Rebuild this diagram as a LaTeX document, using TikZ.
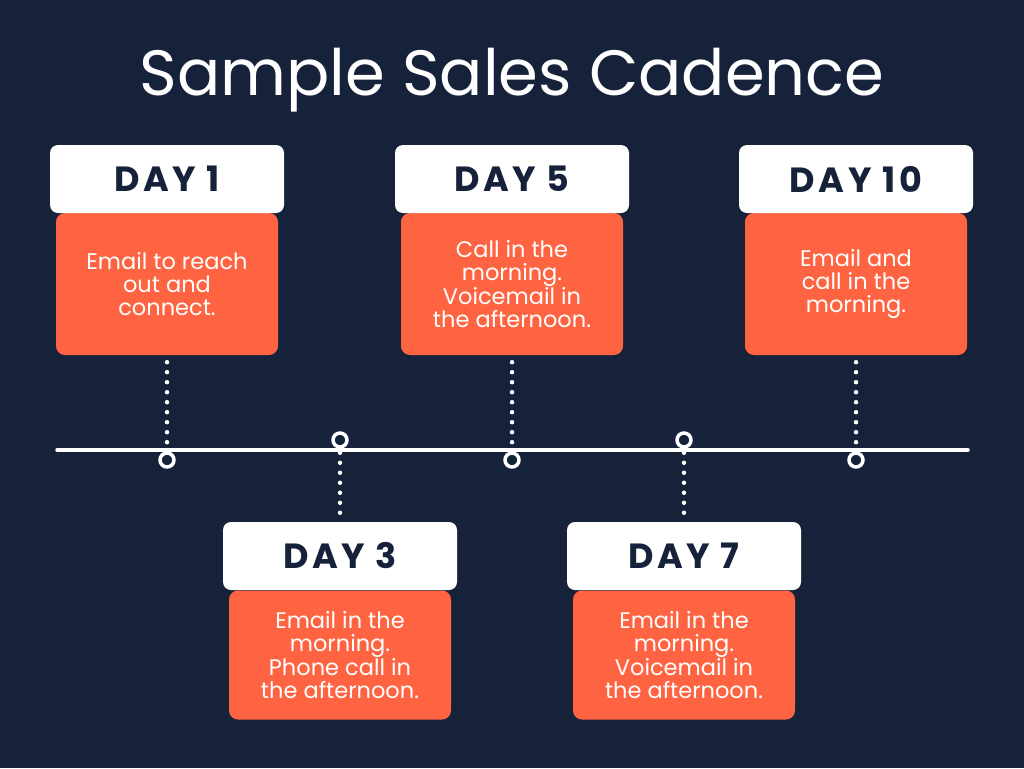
\documentclass[tikz,border=0pt]{standalone}
\usepackage{fontspec}
\setmainfont{Poppins}
\usetikzlibrary{positioning}
\definecolor{navy}{HTML}{16213A}
\definecolor{coral}{HTML}{FF6442}
\tikzset{
	dayhead/.style={fill=white, rounded corners=8pt, minimum width=234pt, minimum height=68pt, text=navy, font=\fontsize{35}{35}\selectfont\bfseries\addfontfeature{LetterSpace=10}},
	daybody/.style={fill=coral, rounded corners=9pt, minimum width=222pt, text=white, align=center, font=\fontsize{22.5}{23}\selectfont},
	markring/.style={circle, draw=white, fill=navy, line width=3.5pt, minimum size=14pt, inner sep=0pt},
	dotline/.style={white, line width=4.5pt, line cap=round, dash pattern=on 0pt off 10pt}
}

\begin{document}
\begin{tikzpicture}[x=1pt, y=-1pt]
	\fill[navy] (0,0) rectangle (1024,768);
	\node[text=white, font=\fontsize{64}{64}\selectfont] (title) at (512,80) {Sample Sales Cadence};
	% timeline
	\coordinate (tl) at (57,450);
	\coordinate (tr) at (968,450);
	\draw[white, line width=3.5pt, line cap=round] (tl) -- (tr);
	% upper cards
	\node[daybody, minimum height=142pt] (b1) at (167,284) {Email to reach\\out and\\connect.};
	\node[dayhead] (h1) at (167,179) {DAY 1};
	\node[daybody, minimum height=142pt] (b5) at (512,284) {Call in the\\morning.\\Voicemail in\\the afternoon.};
	\node[dayhead] (h5) at (512,179) {DAY 5};
	\node[daybody, minimum height=142pt] (b10) at (856,284) {Email and\\call in the\\morning.};
	\node[dayhead] (h10) at (856,179) {DAY 10};
	% lower cards
	\node[daybody, minimum height=129pt] (b3) at (340,655) {Email in the\\morning.\\Phone call in\\the afternoon.};
	\node[dayhead] (h3) at (340,556) {DAY 3};
	\node[daybody, minimum height=129pt] (b7) at (684,655) {Email in the\\morning.\\Voicemail in\\the afternoon.};
	\node[dayhead] (h7) at (684,556) {DAY 7};
	% rings on the line
	\node[markring] (c1) at (167,460) {};
	\node[markring] (c3) at (340,440) {};
	\node[markring] (c5) at (512,460) {};
	\node[markring] (c7) at (684,440) {};
	\node[markring] (c10) at (856,460) {};
	\draw[dotline, shorten <=7pt, shorten >=4pt] (b1.south) -- (c1.north);
	\draw[dotline, shorten <=7pt, shorten >=4pt] (b5.south) -- (c5.north);
	\draw[dotline, shorten <=7pt, shorten >=4pt] (b10.south) -- (c10.north);
	\draw[dotline, shorten <=4pt, shorten >=4pt] (c3.south) -- (h3.north);
	\draw[dotline, shorten <=4pt, shorten >=4pt] (c7.south) -- (h7.north);
\end{tikzpicture}
\end{document}
